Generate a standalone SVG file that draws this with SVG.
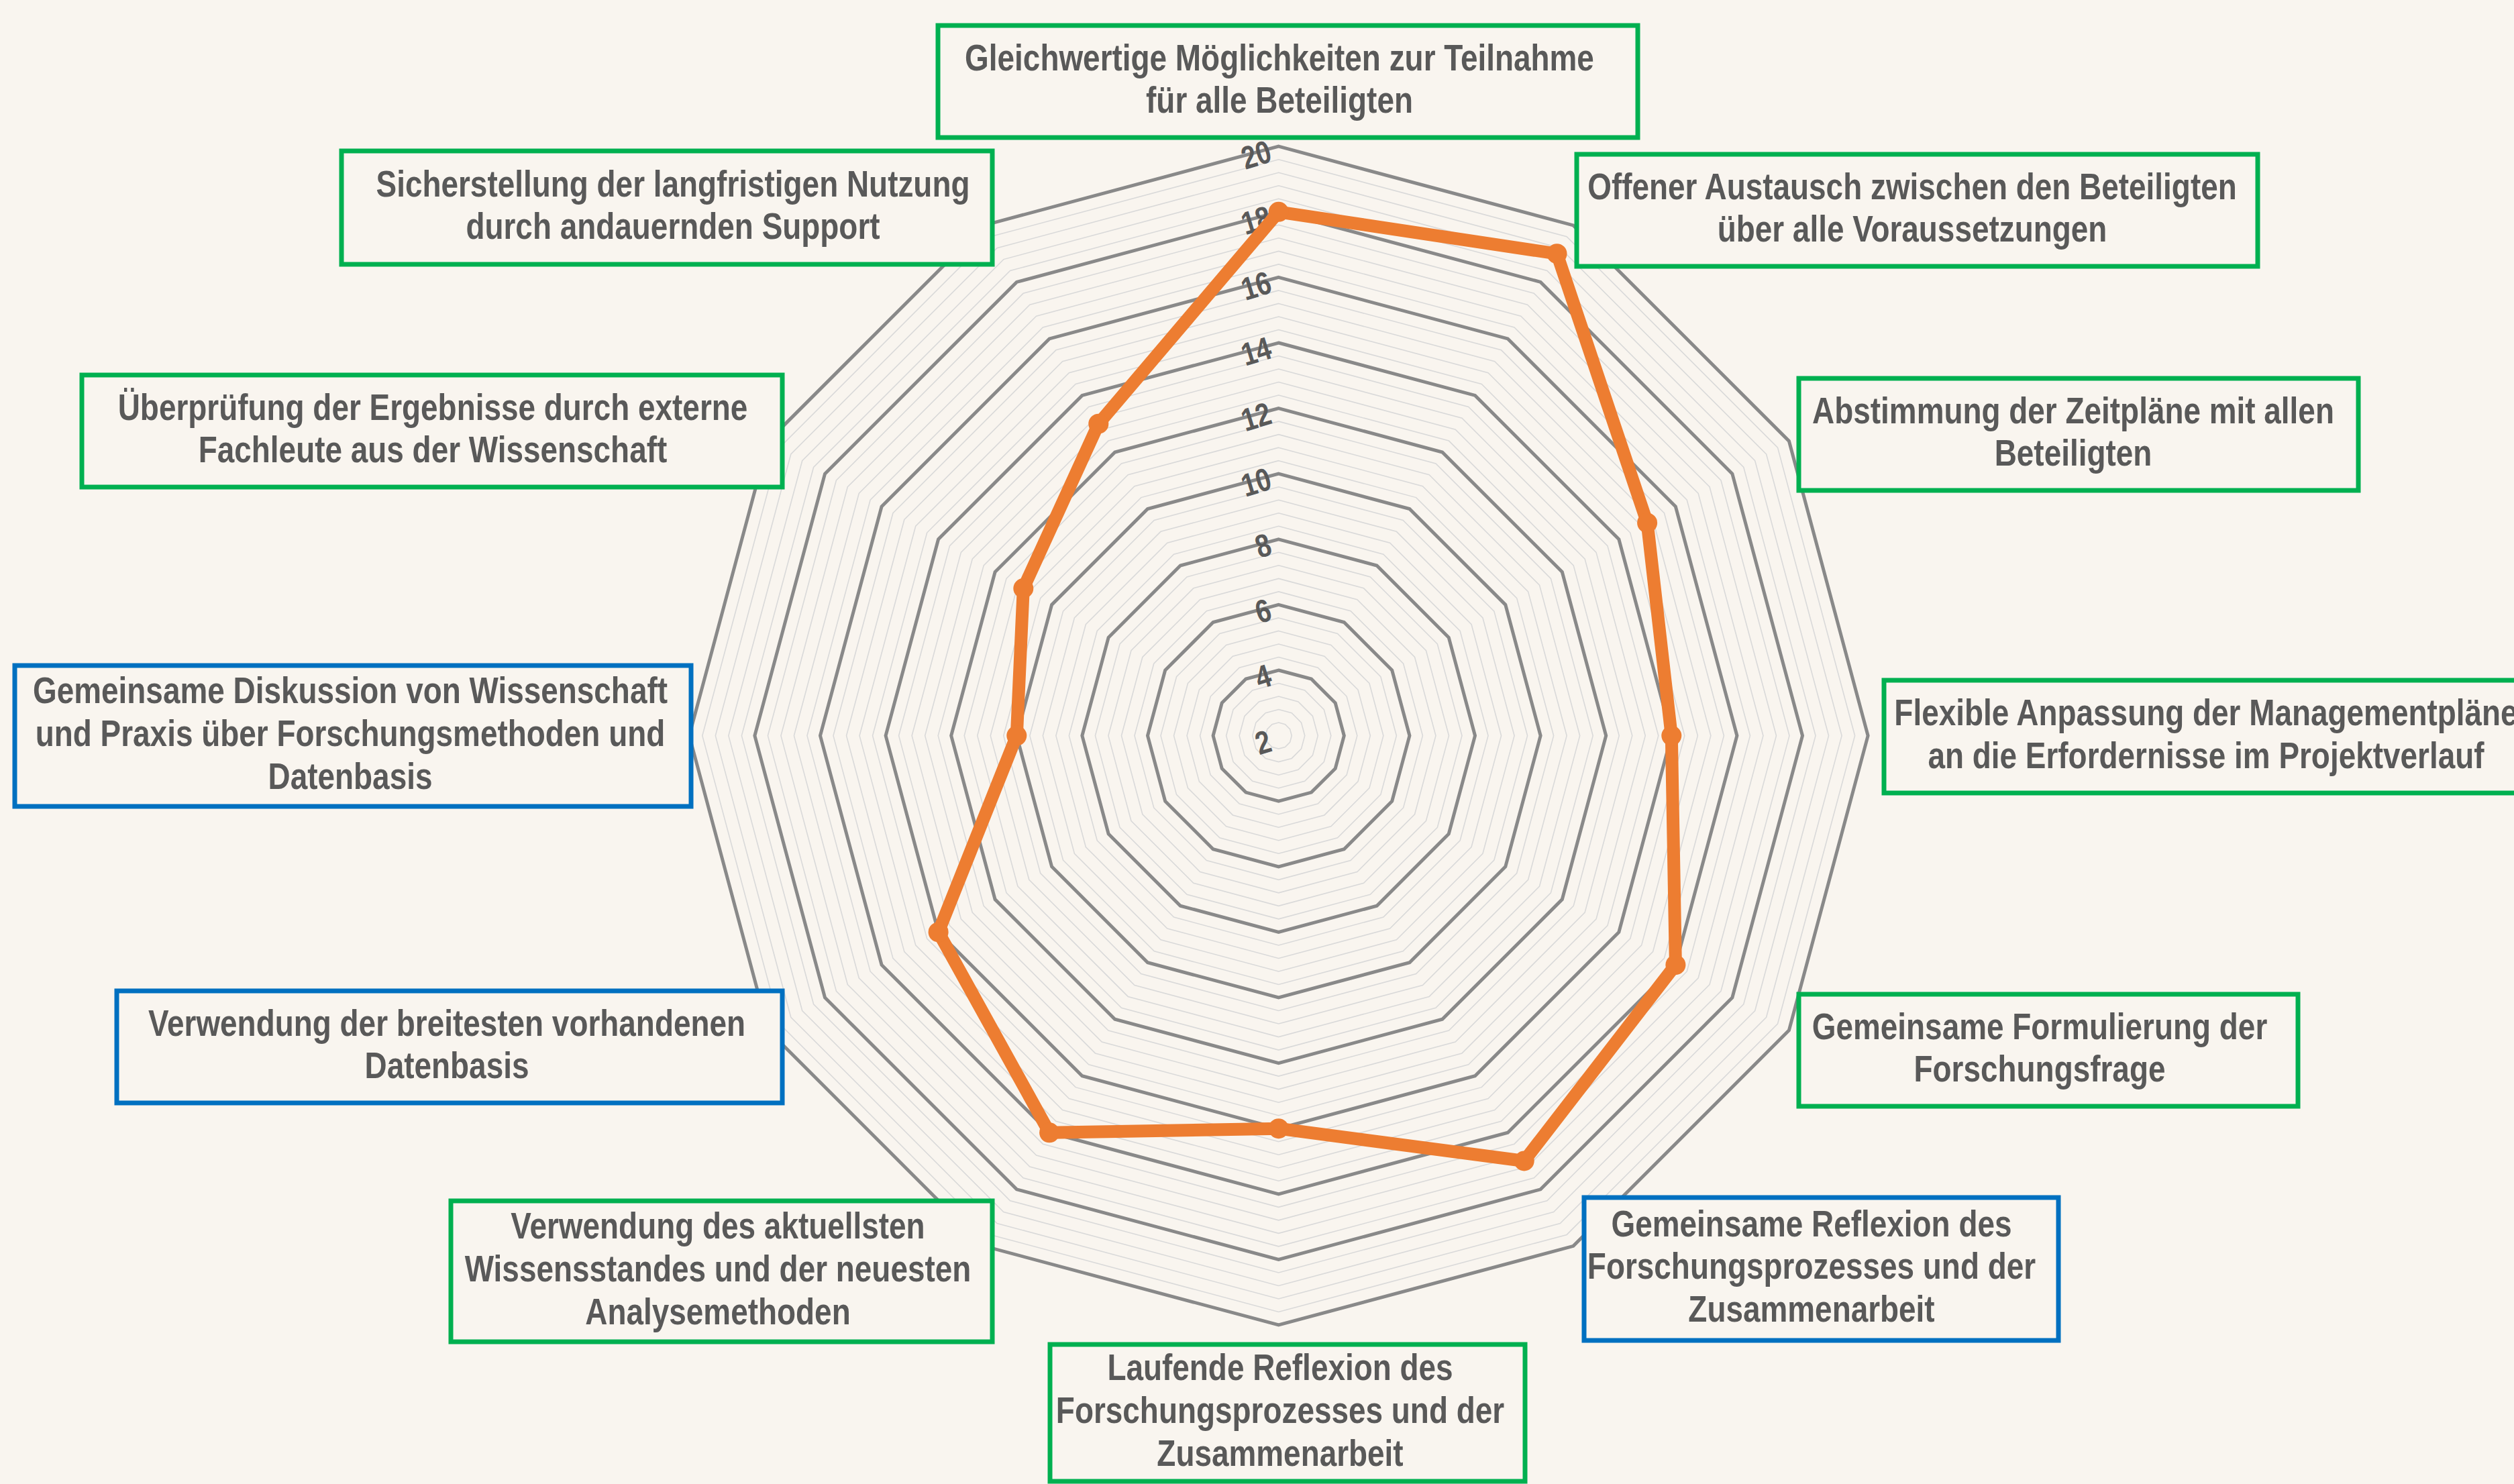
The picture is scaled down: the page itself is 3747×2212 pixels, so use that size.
<svg xmlns="http://www.w3.org/2000/svg" xmlns:xlink="http://www.w3.org/1999/xlink" width="3747" height="2212" viewBox="0 0 3747 2212">
<style>
.minor{fill:none;stroke:#d9d9d9}
.major{fill:none;stroke:#898989}
.box{fill:#f9f5ef;stroke-width:7}
.g{stroke:#00b050}
.b{stroke:#0070c0}
.lbl{font-family:"Liberation Sans",Arial,sans-serif;font-weight:bold;font-size:56px;fill:#595959;text-anchor:middle}
.ax{font-family:"Liberation Sans",Arial,sans-serif;font-weight:bold;font-size:48px;fill:#595959;text-anchor:end}
</style>
<defs>
<polygon id="dg" points="0,-1 0.5,-0.8660254 0.8660254,-0.5 1,0 0.8660254,0.5 0.5,0.8660254 0,1 -0.5,0.8660254 -0.8660254,0.5 -1,0 -0.8660254,-0.5 -0.5,-0.8660254"/>
</defs>
<rect width="3747" height="2212" fill="#f9f5ef"/>
<g id="grid" transform="translate(1905.7,1096.6)">
<g class="minor">
<use xlink:href="#dg" transform="scale(19.52)" stroke-width="0.08197"/>
<use xlink:href="#dg" transform="scale(39.04)" stroke-width="0.04098"/>
<use xlink:href="#dg" transform="scale(58.56)" stroke-width="0.02732"/>
<use xlink:href="#dg" transform="scale(78.08)" stroke-width="0.02049"/>
<use xlink:href="#dg" transform="scale(117.12)" stroke-width="0.01366"/>
<use xlink:href="#dg" transform="scale(136.64)" stroke-width="0.01171"/>
<use xlink:href="#dg" transform="scale(156.16)" stroke-width="0.01025"/>
<use xlink:href="#dg" transform="scale(175.68)" stroke-width="0.00911"/>
<use xlink:href="#dg" transform="scale(214.72)" stroke-width="0.00745"/>
<use xlink:href="#dg" transform="scale(234.24)" stroke-width="0.00683"/>
<use xlink:href="#dg" transform="scale(253.76)" stroke-width="0.00631"/>
<use xlink:href="#dg" transform="scale(273.28)" stroke-width="0.00585"/>
<use xlink:href="#dg" transform="scale(312.32)" stroke-width="0.00512"/>
<use xlink:href="#dg" transform="scale(331.84)" stroke-width="0.00482"/>
<use xlink:href="#dg" transform="scale(351.36)" stroke-width="0.00455"/>
<use xlink:href="#dg" transform="scale(370.88)" stroke-width="0.00431"/>
<use xlink:href="#dg" transform="scale(409.92)" stroke-width="0.00390"/>
<use xlink:href="#dg" transform="scale(429.44)" stroke-width="0.00373"/>
<use xlink:href="#dg" transform="scale(448.96)" stroke-width="0.00356"/>
<use xlink:href="#dg" transform="scale(468.48)" stroke-width="0.00342"/>
<use xlink:href="#dg" transform="scale(507.52)" stroke-width="0.00315"/>
<use xlink:href="#dg" transform="scale(527.04)" stroke-width="0.00304"/>
<use xlink:href="#dg" transform="scale(546.56)" stroke-width="0.00293"/>
<use xlink:href="#dg" transform="scale(566.08)" stroke-width="0.00283"/>
<use xlink:href="#dg" transform="scale(605.12)" stroke-width="0.00264"/>
<use xlink:href="#dg" transform="scale(624.64)" stroke-width="0.00256"/>
<use xlink:href="#dg" transform="scale(644.16)" stroke-width="0.00248"/>
<use xlink:href="#dg" transform="scale(663.68)" stroke-width="0.00241"/>
<use xlink:href="#dg" transform="scale(702.72)" stroke-width="0.00228"/>
<use xlink:href="#dg" transform="scale(722.24)" stroke-width="0.00222"/>
<use xlink:href="#dg" transform="scale(741.76)" stroke-width="0.00216"/>
<use xlink:href="#dg" transform="scale(761.28)" stroke-width="0.00210"/>
<use xlink:href="#dg" transform="scale(800.32)" stroke-width="0.00200"/>
<use xlink:href="#dg" transform="scale(819.84)" stroke-width="0.00195"/>
<use xlink:href="#dg" transform="scale(839.36)" stroke-width="0.00191"/>
<use xlink:href="#dg" transform="scale(858.88)" stroke-width="0.00186"/>
</g>
<g class="major">
<use xlink:href="#dg" transform="scale(97.6)" stroke-width="0.05123"/>
<use xlink:href="#dg" transform="scale(195.2)" stroke-width="0.02561"/>
<use xlink:href="#dg" transform="scale(292.8)" stroke-width="0.01708"/>
<use xlink:href="#dg" transform="scale(390.4)" stroke-width="0.01281"/>
<use xlink:href="#dg" transform="scale(488)" stroke-width="0.01025"/>
<use xlink:href="#dg" transform="scale(585.6)" stroke-width="0.00854"/>
<use xlink:href="#dg" transform="scale(683.2)" stroke-width="0.00732"/>
<use xlink:href="#dg" transform="scale(780.8)" stroke-width="0.00640"/>
<use xlink:href="#dg" transform="scale(878.4)" stroke-width="0.00569"/>
</g>
</g>
<g id="axis-labels" class="ax">
<text transform="translate(1898,1119) rotate(-17) scale(0.82,1)">2</text>
<text transform="translate(1898,1021) rotate(-17) scale(0.82,1)">4</text>
<text transform="translate(1898,923.4) rotate(-17) scale(0.82,1)">6</text>
<text transform="translate(1898,825.8) rotate(-17) scale(0.82,1)">8</text>
<text transform="translate(1898,728.2) rotate(-17) scale(0.82,1)">10</text>
<text transform="translate(1898,630.6) rotate(-17) scale(0.82,1)">12</text>
<text transform="translate(1898,533) rotate(-17) scale(0.82,1)">14</text>
<text transform="translate(1898,435.4) rotate(-17) scale(0.82,1)">16</text>
<text transform="translate(1898,337.8) rotate(-17) scale(0.82,1)">18</text>
<text transform="translate(1898,240.2) rotate(-17) scale(0.82,1)">20</text>
</g>
<g id="series" fill="#ed7d31">
<polygon points="1905.7,315.8 2320.5,378.2 2455.1,779.4 2491.3,1096.6 2497.4,1438.2 2271.7,1730.5 1905.7,1682.2 1564.1,1688.3 1398.6,1389.4 1515.3,1096.6 1525.3,877 1637.3,631.7" fill="none" stroke="#ed7d31" stroke-width="19" stroke-linejoin="round"/>
<circle cx="1905.7" cy="315.8" r="15"/>
<circle cx="2320.5" cy="378.2" r="15"/>
<circle cx="2455.1" cy="779.4" r="15"/>
<circle cx="2491.3" cy="1096.6" r="15"/>
<circle cx="2497.4" cy="1438.2" r="15"/>
<circle cx="2271.7" cy="1730.5" r="15"/>
<circle cx="1905.7" cy="1682.2" r="15"/>
<circle cx="1564.1" cy="1688.3" r="15"/>
<circle cx="1398.6" cy="1389.4" r="15"/>
<circle cx="1515.3" cy="1096.6" r="15"/>
<circle cx="1525.3" cy="877" r="15"/>
<circle cx="1637.3" cy="631.7" r="15"/>
</g>
<g id="n1"><rect class="box g" x="1398" y="38" width="1043" height="167"/>
<text class="lbl" transform="translate(1907,104.5) scale(0.82,1)"><tspan x="0" y="0">Gleichwertige Möglichkeiten zur Teilnahme</tspan><tspan x="0" y="64">für alle Beteiligten</tspan></text></g>
<g id="n2"><rect class="box g" x="2350" y="230" width="1015" height="167"/>
<text class="lbl" transform="translate(2850,296.5) scale(0.82,1)"><tspan x="0" y="0">Offener Austausch zwischen den Beteiligten</tspan><tspan x="0" y="64">über alle Voraussetzungen</tspan></text></g>
<g id="n3"><rect class="box g" x="2681" y="564" width="834" height="167"/>
<text class="lbl" transform="translate(3090,630.5) scale(0.82,1)"><tspan x="0" y="0">Abstimmung der Zeitpläne mit allen</tspan><tspan x="0" y="64">Beteiligten</tspan></text></g>
<g id="n4"><rect class="box g" x="2808" y="1014" width="1000" height="168"/>
<text class="lbl" transform="translate(3288,1081) scale(0.82,1)"><tspan x="0" y="0">Flexible Anpassung der Managementpläne</tspan><tspan x="0" y="64">an die Erfordernisse im Projektverlauf</tspan></text></g>
<g id="n5"><rect class="box g" x="2681" y="1482" width="744" height="167"/>
<text class="lbl" transform="translate(3040,1548.5) scale(0.82,1)"><tspan x="0" y="0">Gemeinsame Formulierung der</tspan><tspan x="0" y="64">Forschungsfrage</tspan></text></g>
<g id="n6"><rect class="box b" x="2361" y="1785" width="707" height="213"/>
<text class="lbl" transform="translate(2700,1842.5) scale(0.82,1)"><tspan x="0" y="0">Gemeinsame Reflexion des</tspan><tspan x="0" y="64">Forschungsprozesses und der</tspan><tspan x="0" y="128">Zusammenarbeit</tspan></text></g>
<g id="n7"><rect class="box g" x="1565" y="2004" width="708" height="204"/>
<text class="lbl" transform="translate(1908,2057) scale(0.82,1)"><tspan x="0" y="0">Laufende Reflexion des</tspan><tspan x="0" y="64">Forschungsprozesses und der</tspan><tspan x="0" y="128">Zusammenarbeit</tspan></text></g>
<g id="n8"><rect class="box g" x="672" y="1790" width="807" height="210"/>
<text class="lbl" transform="translate(1070,1846) scale(0.82,1)"><tspan x="0" y="0">Verwendung des aktuellsten</tspan><tspan x="0" y="64">Wissensstandes und der neuesten</tspan><tspan x="0" y="128">Analysemethoden</tspan></text></g>
<g id="n9"><rect class="box b" x="174" y="1477" width="992" height="167"/>
<text class="lbl" transform="translate(666,1543.5) scale(0.82,1)"><tspan x="0" y="0">Verwendung der breitesten vorhandenen</tspan><tspan x="0" y="64">Datenbasis</tspan></text></g>
<g id="n10"><rect class="box b" x="22" y="992" width="1008" height="210"/>
<text class="lbl" transform="translate(522,1048) scale(0.82,1)"><tspan x="0" y="0">Gemeinsame Diskussion von Wissenschaft</tspan><tspan x="0" y="64">und Praxis über Forschungsmethoden und</tspan><tspan x="0" y="128">Datenbasis</tspan></text></g>
<g id="n11"><rect class="box g" x="122" y="559" width="1044" height="167"/>
<text class="lbl" transform="translate(645,625.5) scale(0.82,1)"><tspan x="0" y="0">Überprüfung der Ergebnisse durch externe</tspan><tspan x="0" y="64">Fachleute aus der Wissenschaft</tspan></text></g>
<g id="n12"><rect class="box g" x="509" y="225" width="970" height="169"/>
<text class="lbl" transform="translate(1003,292.5) scale(0.82,1)"><tspan x="0" y="0">Sicherstellung der langfristigen Nutzung</tspan><tspan x="0" y="64">durch andauernden Support</tspan></text></g>
</svg>
